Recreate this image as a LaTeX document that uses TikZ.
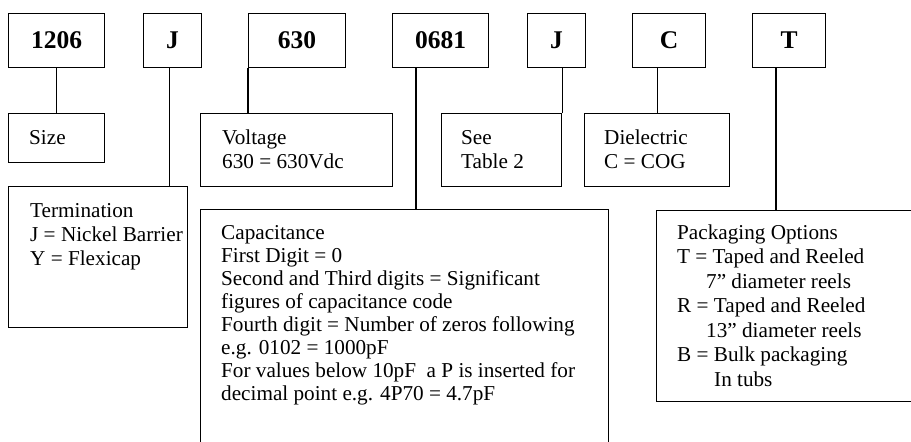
\documentclass[tikz,border=0pt]{standalone}
\usepackage{fontspec}
\setmainfont{Liberation Serif}
\newcommand{\stackleft}[1]{\begin{tabular}[t]{@{}l@{}}#1\end{tabular}}
\begin{document}
\begin{tikzpicture}[x=1pt,y=-1pt,
  box/.style={draw, line width=1.1pt, rectangle, inner sep=0pt, anchor=north west},
  code/.style={font=\bfseries\fontsize{25.5}{30}\selectfont, inner sep=0pt},
  txt/.style={font=\fontsize{21.2}{24}\selectfont, inner sep=0pt, anchor=base west},
  link/.style={line width=1.1pt}]
\useasboundingbox (0,0) rectangle (911,442);
\clip (0,0) rectangle (911,442);
% top code boxes
\node[box, minimum width=96pt, minimum height=54pt] (t1206) at (8,13) {};
\node[box, minimum width=58pt, minimum height=54pt] (tJ) at (143,13) {};
\node[box, minimum width=97pt, minimum height=54pt] (t630) at (248,13) {};
\node[box, minimum width=96pt, minimum height=54pt] (t0681) at (392,13) {};
\node[box, minimum width=58pt, minimum height=54pt] (tJb) at (527,13) {};
\node[box, minimum width=73pt, minimum height=54pt] (tC) at (632,13) {};
\node[box, minimum width=73pt, minimum height=54pt] (tT) at (752,13) {};
\node[code] (l1206) at (t1206.center) {1206};
\node[code] (lJ) at (tJ.center) {J};
\node[code] (l630) at (t630.center) {630};
\node[code] (l0681) at (t0681.center) {0681};
\node[code] (lJb) at (tJb.center) {J};
\node[code] (lC) at (tC.center) {C};
\node[code] (lT) at (tT.center) {T};
% description boxes
\node[box, minimum width=96pt, minimum height=49pt] (size) at (8,113) {};
\node[box, minimum width=192pt, minimum height=73pt] (volt) at (200,113) {};
\node[box, minimum width=120pt, minimum height=73pt] (see) at (441,113) {};
\node[box, minimum width=145pt, minimum height=73pt] (diel) at (584,113) {};
\node[box, minimum width=179pt, minimum height=141pt] (term) at (8,186) {};
\node[box, minimum width=408pt, minimum height=260pt] (cap) at (200,209) {};
\node[box, minimum width=280pt, minimum height=191pt] (pack) at (656,210) {};
% texts
\node[txt] (sizeT) at ([xshift=21pt,yshift=-31pt]size.north west) {Size};
\node[txt] (voltT) at ([xshift=22pt,yshift=-31pt]volt.north west) {\stackleft{Voltage\\630 = 630Vdc}};
\node[txt] (seeT) at ([xshift=20pt,yshift=-31pt]see.north west) {\stackleft{See\\Table 2}};
\node[txt] (dielT) at ([xshift=20pt,yshift=-31pt]diel.north west) {\stackleft{Dielectric\\C = COG}};
\node[txt] (termT) at ([xshift=22pt,yshift=-31pt]term.north west) {\stackleft{Termination\\J = Nickel Barrier\\Y = Flexicap}};
\node[txt, font=\fontsize{21.2}{23}\selectfont] (capT) at ([xshift=21pt,yshift=-30pt]cap.north west) {\stackleft{Capacitance\\First Digit = 0\\Second and Third digits = Significant\\figures of capacitance code\\Fourth digit = Number of zeros following\\e.g. 0102 = 1000pF\\For values below 10pF\ \ a P is inserted for\\decimal point e.g. 4P70 = 4.7pF}};
\node[txt, font=\fontsize{21.2}{24.5}\selectfont] (packT) at ([xshift=21pt,yshift=-29pt]pack.north west) {\stackleft{Packaging Options\\T = Taped and Reeled\\\hspace*{29pt}7” diameter reels\\R = Taped and Reeled\\\hspace*{29pt}13” diameter reels\\B = Bulk packaging\\\hspace*{37pt}In tubs}};
% connectors
\draw[link] (t1206.south) -- (size.north);
\draw[link] ([xshift=-3pt]tJ.south) -- ([xshift=-3pt]tJ.south |- term.north);
\draw[link] (t630.south west) -- (t630.south west |- volt.north);
\draw[link] ([xshift=24pt]t0681.south west) -- ([xshift=24pt]t0681.south west |- cap.north);
\draw[link] (see.north east |- tJb.south) -- (see.north east);
\draw[link] (diel.north |- tC.south) -- (diel.north);
\draw[link] ([xshift=24pt]tT.south west) -- ([xshift=24pt]tT.south west |- pack.north);
\end{tikzpicture}
\end{document}
